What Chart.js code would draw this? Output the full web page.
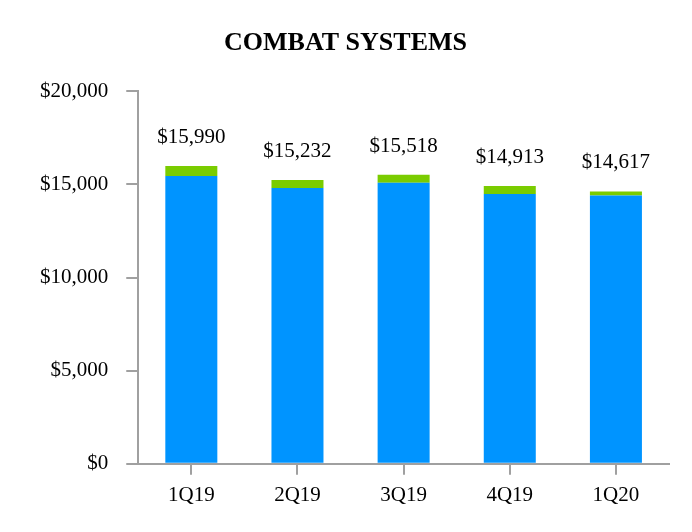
<!DOCTYPE html>
<html>
<head>
<meta charset="utf-8">
<script src="https://cdn.jsdelivr.net/npm/chart.js@4/dist/chart.umd.min.js"></script>
<style>
  html, body { margin: 0; padding: 0; background: #fff; }
  #wrap { width: 692px; height: 532px; position: relative; }
</style>
</head>
<body>
<div id="wrap"><canvas id="combatCanvas"></canvas></div>
<script>
/* ── Combat Systems chart ── */

const quarters   = ['1Q19', '2Q19', '3Q19', '4Q19', '1Q20'];
const totals     = [15990, 15232, 15518, 14913, 14617];
const mainPart   = [15452, 14802, 15088, 14483, 14402];
const topPart    = [538, 430, 430, 430, 215];
const yTicks     = [0, 5000, 10000, 15000, 20000];

const money = v => '$' + v.toLocaleString('en-US');
const serif = 'Liberation Serif, Times New Roman, serif';

// draws the total above each stacked bar
const totalLabels = {
    id: 'totalLabels',
    afterDatasetsDraw(chart) {
        const ctx  = chart.ctx;
        const y    = chart.scales.y;
        const meta = chart.getDatasetMeta(0);
        ctx.save();
        ctx.fillStyle    = '#000';
        ctx.font         = '21px ' + serif;
        ctx.textAlign    = 'center';
        ctx.textBaseline = 'alphabetic';
        totals.forEach((t, i) => {
            const x = meta.data[i].x;
            ctx.fillText(money(t), x, y.getPixelForValue(t) - 23);
        });
        ctx.restore();
    },
};

new Chart(document.getElementById('combatCanvas').getContext('2d'), {
    type: 'bar',
    data: {
        labels: quarters,
        datasets: [
            { label: 'Base',  data: mainPart, backgroundColor: '#0094FF', barPercentage: 0.49, categoryPercentage: 1 },
            { label: 'Other', data: topPart,  backgroundColor: '#7ACC00', barPercentage: 0.49, categoryPercentage: 1 },
        ],
    },
    options: {
        responsive: true,
        maintainAspectRatio: false,
        animation: false,
        layout: { padding: { left: 22, right: 23, top: 0, bottom: 16 } },
        scales: {
            x: {
                stacked: true,
                grid:   { drawOnChartArea: false, offset: false, color: '#a0a0a0', tickLength: 11, lineWidth: 2 },
                border: { color: '#a0a0a0', width: 2 },
                ticks:  { color: '#000', font: { family: serif, size: 21 }, padding: 8 },
            },
            y: {
                stacked: true,
                min: 0,
                max: 20000,
                afterBuildTicks: axis => { axis.ticks = yTicks.map(v => ({ value: v })); },
                grid:   { drawOnChartArea: false, color: '#a0a0a0', tickLength: 12, lineWidth: 2 },
                border: { color: '#a0a0a0', width: 2 },
                ticks:  { color: '#000', font: { family: serif, size: 21 }, padding: 18, callback: v => money(v) },
            },
        },
        plugins: {
            legend:  { display: false },
            tooltip: { enabled: false },
            title: {
                display: true,
                text: 'COMBAT SYSTEMS',
                color: '#000',
                font: { family: serif, size: 26, weight: 'bold' },
                padding: { top: 28, bottom: 32 },
            },
        },
    },
    plugins: [totalLabels],
});
</script>
</body>
</html>
